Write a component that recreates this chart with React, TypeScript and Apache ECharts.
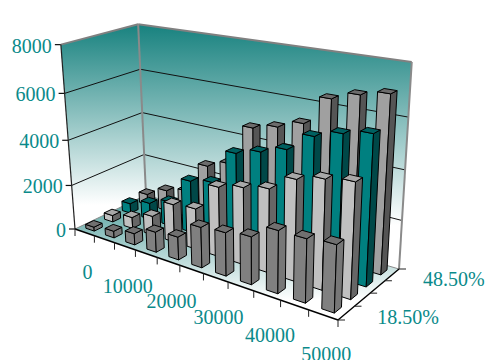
import React, { useEffect, useRef } from "react";
import * as echarts from "echarts";

// Categories and tick labels
const salaries = ["0", "5000", "10000", "15000", "20000", "25000", "30000", "35000", "40000", "45000", "50000"];
const rates = ["18.50%", "28.50%", "38.50%", "48.50%"];
const valueTicks = [0, 2000, 4000, 6000, 8000];

// Bar heights per rate row
const row185 = [180, 300, 500, 880, 980, 1700, 1790, 1940, 2500, 2500, 2600];
const row285 = [300, 500, 850, 1660, 1760, 2950, 3200, 3420, 4050, 4320, 4480];
const row385 = [450, 750, 1090, 2300, 2500, 3980, 4270, 4600, 5330, 5650, 5870];
const row485 = [500, 950, 1200, 2600, 2950, 4700, 4950, 5300, 6450, 6780, 7000];

const rows = [row185, row285, row385, row485];
const faceColors = [
  { front: "#808080", side: "#777777", top: "#707070" },
  { front: "#c0c0c0", side: "#666666", top: "#a8a8a8" },
  { front: "#008080", side: "#004848", top: "#006060" },
  { front: "#a0a0a0", side: "#555555", top: "#6c6c6c" },
];

type Pt = [number, number];

// Corners of the plot box on the page: floor front-left, front-right,
// back-right, back-left, then the top of three wall edges.
const floorCorners: Pt[] = [[75, 229], [338, 320], [399, 269], [146, 195]];
const topFrontLeft: Pt = [62, 43];
const topBackLeft: Pt = [138.5, 17];
const topBackRight: Pt = [410, 73];

function buildProjection() {
  const [[x0, y0], [x1, y1], [x2, y2], [x3, y3]] = floorCorners;
  const dx1 = x1 - x2, dx2 = x3 - x2, sx = x0 - x1 + x2 - x3;
  const dy1 = y1 - y2, dy2 = y3 - y2, sy = y0 - y1 + y2 - y3;
  const den = dx1 * dy2 - dx2 * dy1;
  const g = (sx * dy2 - dx2 * sy) / den;
  const h = (dx1 * sy - sx * dy1) / den;
  const a = x1 - x0 + g * x1, b = x3 - x0 + h * x3, c = x0;
  const d = y1 - y0 + g * y1, e = y3 - y0 + h * y3, f = y0;

  // Least squares for the height column of the camera matrix.
  const refs: [number, number, Pt][] = [
    [0, 0, topFrontLeft],
    [0, 1, topBackLeft],
    [1, 1, topBackRight],
  ];
  const rowsA: number[][] = [];
  const rhs: number[] = [];
  for (const [X, Y, [u, v]] of refs) {
    const w = g * X + h * Y + 1;
    rowsA.push([1, 0, -u]);
    rhs.push(u * w - (a * X + b * Y + c));
    rowsA.push([0, 1, -v]);
    rhs.push(v * w - (d * X + e * Y + f));
  }
  const N = [0, 1, 2].map((i) => [0, 1, 2].map((j) => rowsA.reduce((s, r) => s + r[i] * r[j], 0)));
  const m = [0, 1, 2].map((i) => rowsA.reduce((s, r, k) => s + r[i] * rhs[k], 0));
  for (let i = 0; i < 3; i++) {
    for (let k = i + 1; k < 3; k++) {
      const t = N[k][i] / N[i][i];
      for (let j = i; j < 3; j++) N[k][j] -= t * N[i][j];
      m[k] -= t * m[i];
    }
  }
  const sol = [0, 0, 0];
  for (let i = 2; i >= 0; i--) {
    let s = m[i];
    for (let j = i + 1; j < 3; j++) s -= N[i][j] * sol[j];
    sol[i] = s / N[i][i];
  }
  const [p, q, r] = sol;
  return (X: number, Y: number, Z: number): Pt => {
    const w = g * X + h * Y + r * Z + 1;
    return [(a * X + b * Y + p * Z + c) / w, (d * X + e * Y + q * Z + f) / w];
  };
}

const project = buildProjection();
const BAR_SHARE = 0.43;
const TEAL_TEXT = "#0a8a8a";
const LABEL_FONT = '20px "Liberation Serif"';

function renderBar(rowIndex: number) {
  return (params: any, api: any) => {
    const cs = params.coordSys;
    const cat = api.value(0);
    const pos = api.coord([cat, api.value(1)]);
    const X = (pos[0] - cs.x) / cs.width;
    const Z = (cs.y + cs.height - pos[1]) / cs.height;
    const halfX = (api.size([1, 0])[0] / cs.width) * BAR_SHARE * 0.5;
    const Yc = (rowIndex + 0.5) / rates.length;
    const halfY = (BAR_SHARE * 0.5) / rates.length;
    const x0 = X - halfX, x1 = X + halfX, y0 = Yc - halfY, y1 = Yc + halfY;
    const face = (pts: Pt[], fill: string) => ({
      type: "polygon",
      shape: { points: pts },
      style: { fill, stroke: "#000", lineWidth: 1 },
    });
    const colors = faceColors[rowIndex];
    return {
      type: "group",
      children: [
        face([project(x0, y0, 0), project(x1, y0, 0), project(x1, y0, Z), project(x0, y0, Z)], colors.front),
        face([project(x1, y0, 0), project(x1, y1, 0), project(x1, y1, Z), project(x1, y0, Z)], colors.side),
        face([project(x0, y0, Z), project(x1, y0, Z), project(x1, y1, Z), project(x0, y1, Z)], colors.top),
      ],
    };
  };
}

function boxGraphics() {
  const els: any[] = [];
  const line = (a: Pt, b: Pt, stroke: string, lineWidth: number) =>
    els.push({ type: "line", shape: { x1: a[0], y1: a[1], x2: b[0], y2: b[1] }, style: { stroke, lineWidth } });
  const wallFill = (y2: number) =>
    new echarts.graphic.LinearGradient(0, 17, 0, y2, [
      { offset: 0, color: "#0f7d7a" },
      { offset: 1, color: "#ffffff" },
    ], true);

  const A = project(0, 0, 0), B = project(1, 0, 0), C = project(1, 1, 0), D = project(0, 1, 0);
  const At = project(0, 0, 1), Ct = project(1, 1, 1), Dt = project(0, 1, 1);

  els.push({ type: "polygon", shape: { points: [A, D, Dt, At] }, style: { fill: wallFill(205) } });
  els.push({ type: "polygon", shape: { points: [D, C, Ct, Dt] }, style: { fill: wallFill(225) } });
  els.push({
    type: "polygon",
    shape: { points: [A, B, C, D] },
    style: {
      fill: new echarts.graphic.LinearGradient(0, 195, 0, 300, [
        { offset: 0, color: "#4f9e9b" },
        { offset: 1, color: "#ffffff" },
      ], true),
    },
  });

  valueTicks.forEach((v) => {
    const Z = v / valueTicks[valueTicks.length - 1];
    const left = project(0, 0, Z), back = project(0, 1, Z), right = project(1, 1, Z);
    if (v > 0 && Z < 1) {
      line(left, back, "#111", 1);
      line(back, right, "#111", 1);
    }
    line([left[0] - 6, left[1]], left, "#111", 1.2);
    els.push({
      type: "text",
      style: {
        x: left[0] - 9, y: left[1] + 1, text: String(v), align: "right", verticalAlign: "middle",
        font: LABEL_FONT, fill: TEAL_TEXT,
      },
    });
  });

  line(At, Dt, "#808080", 2);
  line(Dt, Ct, "#808080", 2);
  line(D, Dt, "#8a8a8a", 2);
  line(C, Ct, "#8a8a8a", 2);
  line(A, D, "#8a8a8a", 1);
  line(D, C, "#8a8a8a", 1);
  line(A, At, "#222", 1.2);
  line(A, B, "#000", 1.4);
  line(B, C, "#000", 1.4);

  salaries.forEach((_, i) => {
    const t = project(i / salaries.length, 0, 0);
    line(t, [t[0], t[1] + 7], "#222", 1);
  });
  const end = project(1, 0, 0);
  line(end, [end[0], end[1] + 7], "#222", 1);

  rates.forEach((_, i) => {
    const t = project(1, i / rates.length, 0);
    line(t, [t[0] + 7, t[1]], "#222", 1);
  });
  const far = project(1, 1, 0);
  line(far, [far[0] + 7, far[1]], "#222", 1);

  salaries.forEach((s, i) => {
    if (i % 2 !== 0) return;
    const t = project((i + 0.5) / salaries.length, 0, 0);
    els.push({
      type: "text",
      style: { x: t[0] + 3, y: t[1] + 39.5, text: s, align: "center", verticalAlign: "middle", font: LABEL_FONT, fill: TEAL_TEXT },
    });
  });
  rates.forEach((s, i) => {
    if (i % 3 !== 0) return;
    const t = project(1, (i + 0.5) / rates.length, 0);
    els.push({
      type: "text",
      style: { x: t[0] + 31, y: t[1] + 4, text: s, align: "left", verticalAlign: "middle", font: LABEL_FONT, fill: TEAL_TEXT },
    });
  });
  return els;
}

export default function App() {
  const ref = useRef<HTMLDivElement>(null);
  useEffect(() => {
    const chart = echarts.init(ref.current!, undefined, { renderer: "svg" });
    // Far rows go first so nearer bars paint over them.
    const order = rows.map((_, i) => rows.length - 1 - i);
    chart.setOption({
      animation: false,
      backgroundColor: "#ffffff",
      grid: { left: 0, right: 0, top: 0, bottom: 0 },
      xAxis: { type: "category", data: salaries, show: false },
      yAxis: { type: "value", min: 0, max: 8000, interval: 2000, show: false },
      graphic: { elements: boxGraphics() },
      series: order.map((r) => ({
        type: "custom",
        name: rates[r],
        coordinateSystem: "cartesian2d",
        clip: false,
        silent: true,
        renderItem: renderBar(r),
        data: rows[r].map((v, i) => [i, v]),
      })),
    });
    return () => chart.dispose();
  }, []);
  return <div ref={ref} style={{ position: "fixed", left: 0, top: 0, width: 487, height: 360 }} />;
}
